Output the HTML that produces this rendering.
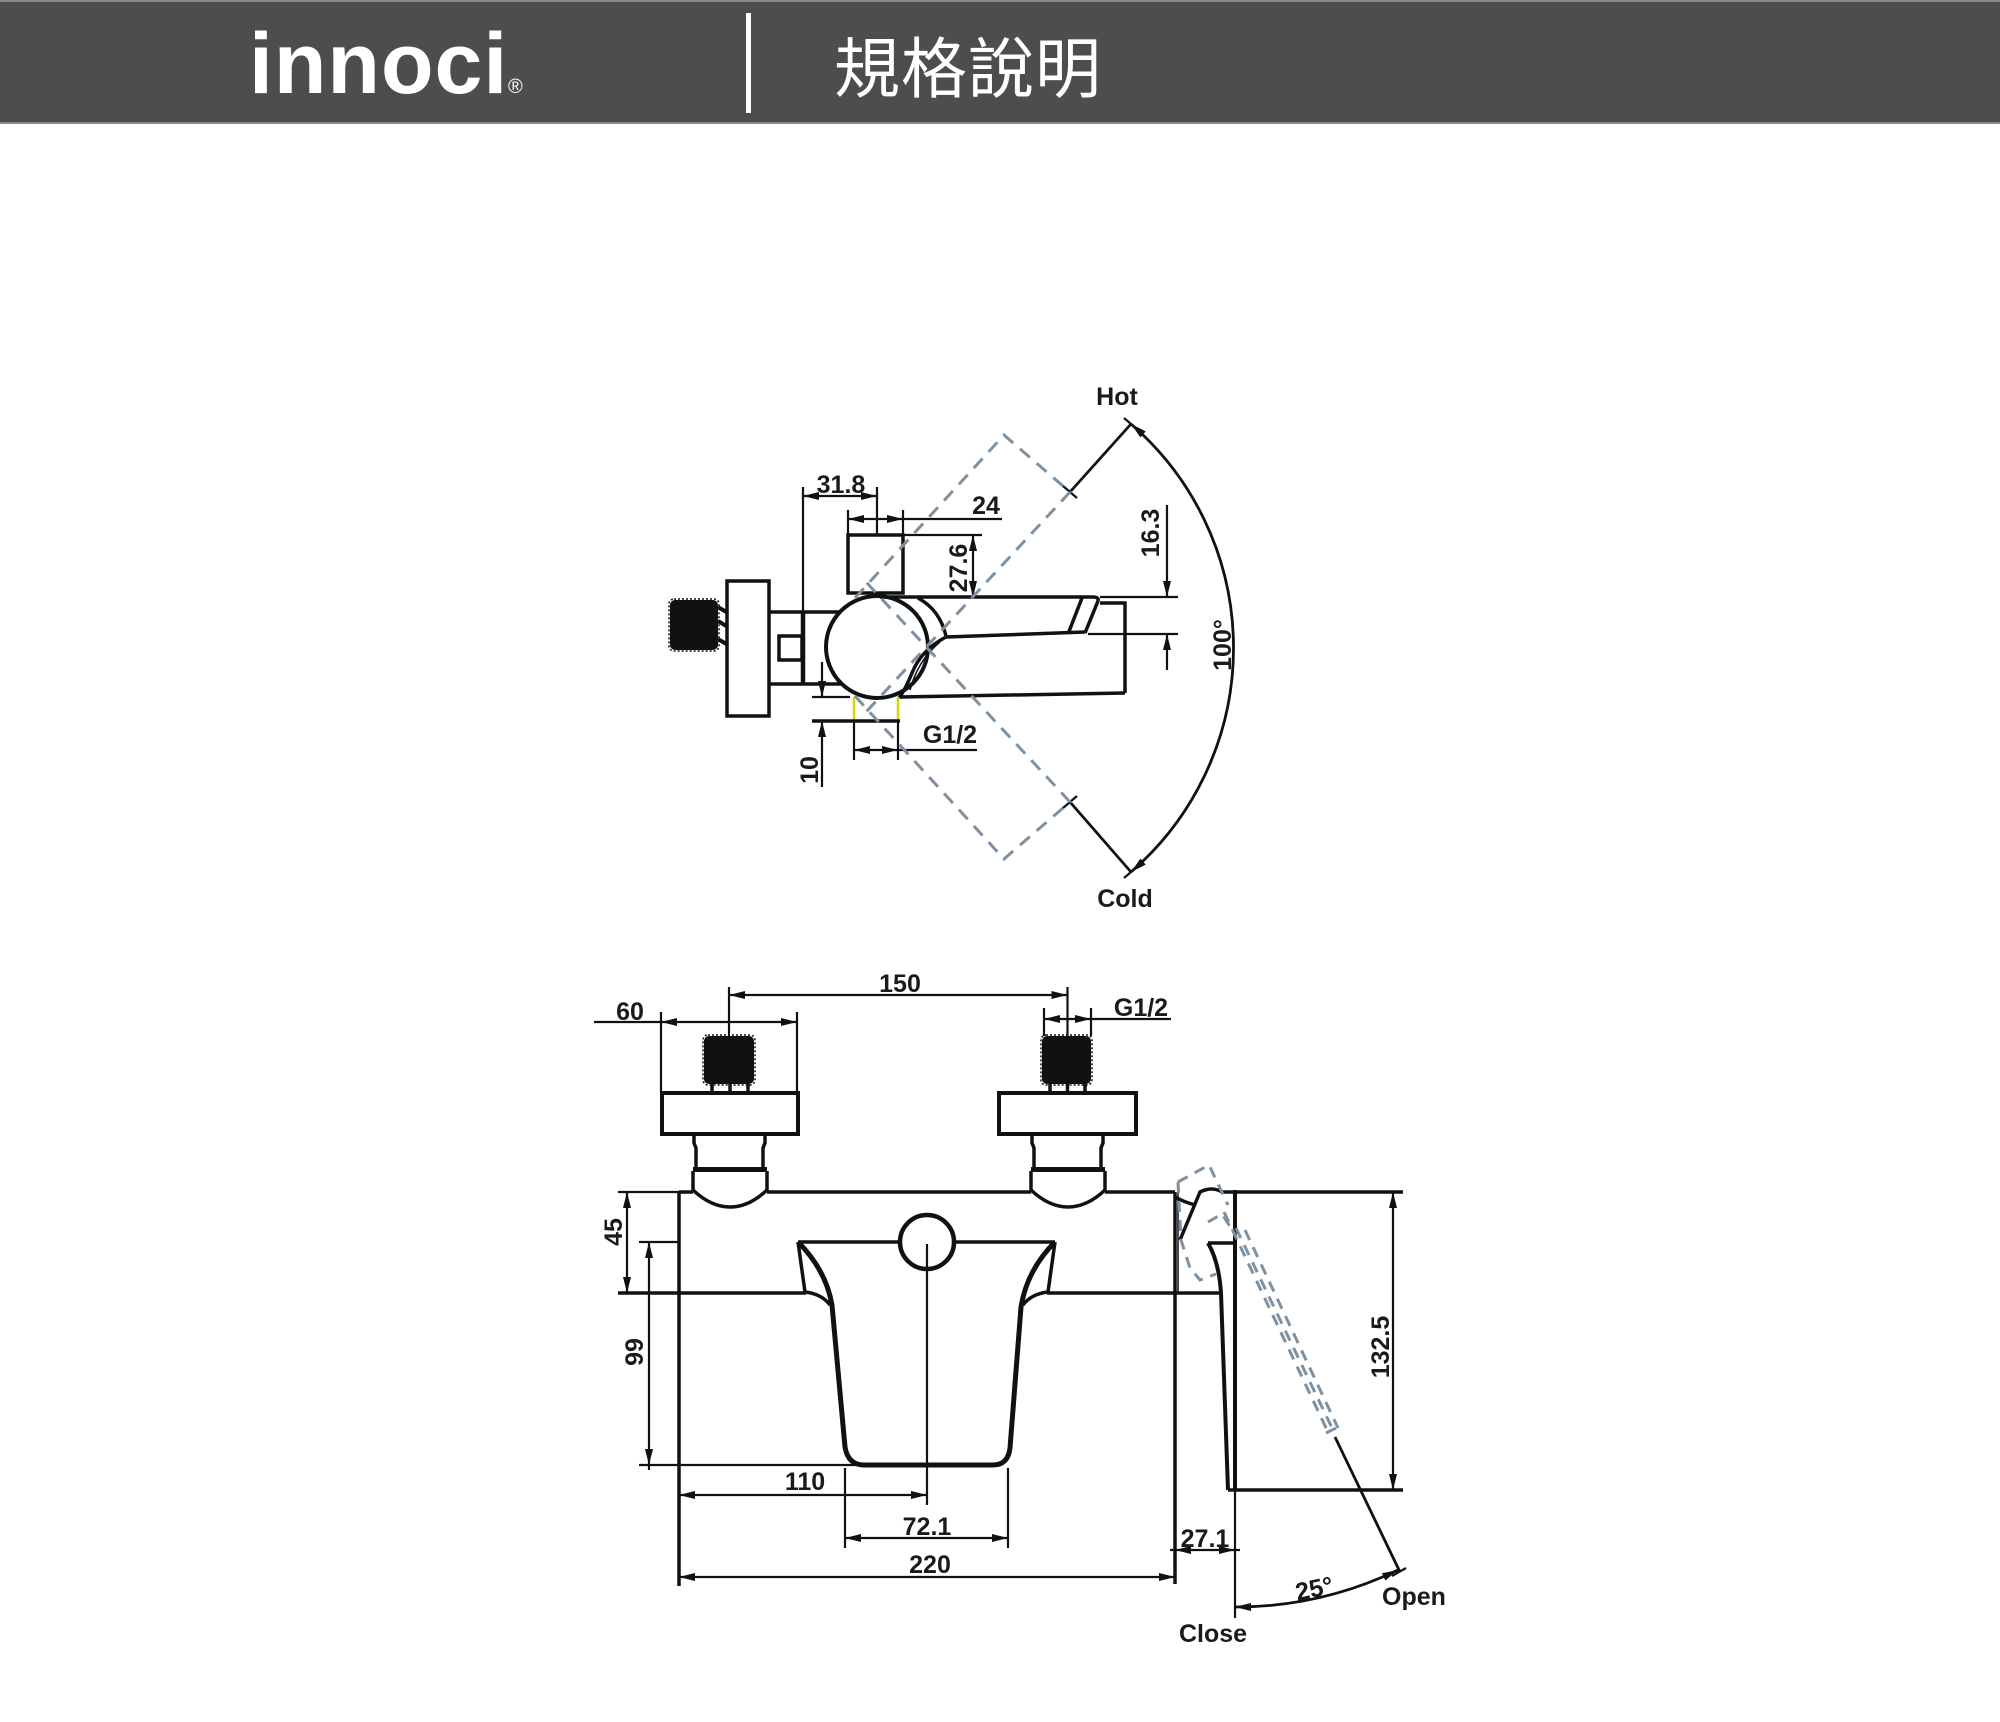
<!DOCTYPE html>
<html><head><meta charset="utf-8"><style>
html,body{margin:0;padding:0;background:#fff;}
svg{display:block;}
.t{font-family:"Liberation Sans",sans-serif;font-weight:bold;font-size:25px;fill:#1a1a1a;}
</style></head><body>
<svg width="2000" height="1722" viewBox="0 0 2000 1722" xmlns="http://www.w3.org/2000/svg">
<defs>
<marker id="a" viewBox="0 0 16 8" refX="16" refY="4" markerWidth="16" markerHeight="8" markerUnits="userSpaceOnUse" orient="auto-start-reverse"><path d="M0,0 L16,4 L0,8 z" fill="#111"/></marker>
</defs>
<rect x="0" y="0" width="2000" height="1722" fill="#fff"/>
<!-- header -->
<rect x="0" y="0" width="2000" height="124" fill="#4d4d4d"/>
<rect x="0" y="0" width="2000" height="2" fill="#8a8a8a"/>
<rect x="0" y="122" width="2000" height="2" fill="#8a8a8a"/>
<text x="249" y="93" font-family="Liberation Sans, sans-serif" font-weight="bold" font-size="86" letter-spacing="1" fill="#fff">innoci</text>
<text x="508" y="93" font-family="Liberation Sans, sans-serif" font-size="20" fill="#fff">®</text>
<rect x="746" y="13" width="5" height="100" fill="#fff"/>
<text x="834" y="92" font-family="Liberation Sans, 'Noto Sans CJK TC', sans-serif" font-size="66" letter-spacing="1" fill="#fff">規格說明</text>

<!-- ================= TOP VIEW ================= -->
<g stroke="#111" fill="none" stroke-width="3.5">
  <rect x="670" y="600" width="48" height="50" rx="5" fill="#111" stroke="none"/>
  <rect x="669" y="599" width="50" height="52" rx="5" stroke-dasharray="2 2" stroke-width="1.5"/>
  <line x1="718" y1="607" x2="728" y2="613" stroke-width="4"/>
  <line x1="718" y1="621" x2="728" y2="627" stroke-width="4"/>
  <line x1="718" y1="639" x2="728" y2="645" stroke-width="4"/>
  <rect x="727" y="581" width="42" height="135"/>
  <line x1="769" y1="612" x2="841" y2="612"/>
  <line x1="769" y1="684" x2="843" y2="684"/>
  <rect x="779" y="636" width="23" height="24"/>
  <line x1="803" y1="487" x2="803" y2="612" stroke-width="2.2"/>
  <line x1="803" y1="612" x2="803" y2="684" stroke-width="4.5"/>
  <circle cx="877" cy="647" r="51" stroke-width="4"/>
  <rect x="848" y="535" width="55" height="58"/>
  <!-- spout -->
  <path d="M880,597 L1093,597 Q1099,597 1098,601"/>
  <path d="M918,598 Q940,610 946,636"/>
  <path d="M946,637 L1085,632"/>
  <path d="M1082,598 L1068,634"/>
  <path d="M1098,601 L1085,633"/>
  <path d="M1100,603 L1125,603 L1125,693"/>
  <path d="M900,697 L1125,693"/>
  <path d="M946,637 Q921,650 912,673 Q905,690 899,698"/>
  <path d="M940,642 Q918,660 910,690" stroke-width="1.5"/>
  <!-- G1/2 pipe -->
  <line x1="854" y1="697" x2="854" y2="721" stroke="#d8d800" stroke-width="2.5"/>
  <line x1="898" y1="697" x2="898" y2="721" stroke="#d8d800" stroke-width="2.5"/>
  <line x1="812" y1="697" x2="850" y2="697" stroke-width="2.2"/>
  <line x1="812" y1="721" x2="900" y2="721" stroke-width="3.5"/>
</g>
<!-- top view dims -->
<g stroke="#111" fill="none" stroke-width="2.2">
  <!-- 31.8 -->
  <line x1="877" y1="487" x2="877" y2="535"/>
  <line x1="803" y1="496" x2="877" y2="496" marker-start="url(#a)" marker-end="url(#a)"/>
  <!-- 24 -->
  <line x1="848" y1="510" x2="848" y2="535"/>
  <line x1="903" y1="510" x2="903" y2="535"/>
  <line x1="848" y1="519" x2="903" y2="519" marker-start="url(#a)" marker-end="url(#a)"/>
  <line x1="903" y1="519" x2="1002" y2="519"/>
  <!-- 27.6 -->
  <line x1="903" y1="535" x2="982" y2="535"/>
  <line x1="973" y1="535" x2="973" y2="597" marker-start="url(#a)" marker-end="url(#a)"/>
  <!-- 16.3 -->
  <line x1="1100" y1="597" x2="1178" y2="597"/>
  <line x1="1088" y1="634" x2="1178" y2="634"/>
  <line x1="1167" y1="505" x2="1167" y2="597" marker-end="url(#a)"/>
  <line x1="1167" y1="670" x2="1167" y2="634" marker-end="url(#a)"/>
  <!-- 10 -->
  <line x1="822" y1="662" x2="822" y2="697" marker-end="url(#a)"/>
  <line x1="822" y1="787" x2="822" y2="721" marker-end="url(#a)"/>
  <!-- G1/2 -->
  <line x1="854" y1="721" x2="854" y2="760"/>
  <line x1="898" y1="721" x2="898" y2="760"/>
  <line x1="854" y1="750" x2="898" y2="750" marker-start="url(#a)" marker-end="url(#a)"/>
  <line x1="898" y1="750" x2="977" y2="750"/>
  <!-- hot/cold rays -->
  <line x1="1070" y1="492" x2="1131" y2="424" stroke-width="2.8"/>
  <line x1="1070" y1="802" x2="1131" y2="872" stroke-width="2.8"/>
  <line x1="1063" y1="486" x2="1077" y2="498"/>
  <line x1="1063" y1="808" x2="1077" y2="796"/>
  <line x1="1124" y1="418" x2="1138" y2="430"/>
  <line x1="1124" y1="878" x2="1138" y2="866"/>
  <path d="M1131,424 A296,296 0 0 1 1131,872" stroke-width="2.8" marker-start="url(#a)" marker-end="url(#a)"/>
</g>
<!-- dashed handles -->
<g stroke="#7d91a3" fill="none" stroke-width="3" stroke-dasharray="13 9">
  <polyline points="855,598 1004,435 1070,492 866,712"/>
  <polyline points="855,696 1004,859 1070,802 866,582"/>
</g>
<text class="t" x="841" y="493" text-anchor="middle">31.8</text>
<text class="t" x="986" y="514" text-anchor="middle">24</text>
<text class="t" transform="translate(967,568) rotate(-90)" text-anchor="middle">27.6</text>
<text class="t" transform="translate(1159,533) rotate(-90)" text-anchor="middle">16.3</text>
<text class="t" transform="translate(818,770) rotate(-90)" text-anchor="middle">10</text>
<text class="t" x="950" y="743" text-anchor="middle">G1/2</text>
<text class="t" x="1117" y="405" text-anchor="middle">Hot</text>
<text class="t" x="1125" y="907" text-anchor="middle">Cold</text>
<text class="t" transform="translate(1231,645) rotate(-90)" text-anchor="middle">100°</text>

<!-- ================= FRONT VIEW ================= -->
<g stroke="#111" fill="none" stroke-width="3.5">
  <rect x="704" y="1036" width="50" height="48" rx="5" fill="#111" stroke="none"/>
  <rect x="703" y="1035" width="52" height="50" rx="5" stroke-dasharray="2 2" stroke-width="1.5"/>
  <rect x="1042" y="1036" width="49" height="48" rx="5" fill="#111" stroke="none"/>
  <rect x="1041" y="1035" width="51" height="50" rx="5" stroke-dasharray="2 2" stroke-width="1.5"/>
  <line x1="712" y1="1084" x2="712" y2="1093"/><line x1="730" y1="1084" x2="730" y2="1093"/><line x1="748" y1="1084" x2="748" y2="1093"/>
  <line x1="1050" y1="1084" x2="1050" y2="1093"/><line x1="1067.5" y1="1084" x2="1067.5" y2="1093"/><line x1="1085" y1="1084" x2="1085" y2="1093"/>
  <rect x="662" y="1093" width="136" height="41" stroke-width="4"/>
  <rect x="999" y="1093" width="137" height="41" stroke-width="4"/>
  <!-- left neck/cup -->
  <path d="M694,1134 L694,1143 L696,1148 L696,1168"/>
  <path d="M765,1134 L765,1143 L763,1148 L763,1168"/>
  <rect x="693" y="1167" width="74" height="5" fill="#111" stroke="none"/>
  <path d="M693,1171 L693,1190 Q711,1207 730,1207 Q749,1207 767,1190 L767,1171"/>
  <!-- right neck/cup -->
  <path d="M1032,1134 L1032,1143 L1034,1148 L1034,1168"/>
  <path d="M1103,1134 L1103,1143 L1101,1148 L1101,1168"/>
  <rect x="1031" y="1167" width="74" height="5" fill="#111" stroke="none"/>
  <path d="M1031,1171 L1031,1190 Q1049,1207 1068,1207 Q1087,1207 1105,1190 L1105,1171"/>
  <!-- body -->
  <line x1="679" y1="1192" x2="693" y2="1192"/>
  <line x1="767" y1="1192" x2="1031" y2="1192"/>
  <line x1="1105" y1="1192" x2="1175" y2="1192"/>
  <line x1="679" y1="1192" x2="679" y2="1586"/>
  <line x1="1175" y1="1192" x2="1175" y2="1584"/>
  <line x1="1178" y1="1192" x2="1178" y2="1293" stroke-width="1.5"/>
  <line x1="618" y1="1293" x2="806" y2="1293"/>
  <line x1="1047" y1="1293" x2="1220" y2="1293"/>
  <!-- spout -->
  <line x1="798" y1="1242" x2="900" y2="1242"/>
  <line x1="954" y1="1242" x2="1055" y2="1242"/>
  <circle cx="927" cy="1242" r="27" stroke-width="4.5"/>
  <path d="M798,1242 L805,1292 Q822,1294 830,1305"/>
  <path d="M1055,1242 L1048,1292 Q1031,1294 1023,1305"/>
  <path d="M798,1242 Q826,1270 832,1305 L845,1447 Q848,1465 864,1465 L993,1465 Q1008,1465 1010,1448 L1021,1307 Q1027,1270 1055,1242" stroke-width="5"/>
  <!-- side view -->
  <line x1="1222" y1="1192" x2="1403" y2="1192"/>
  <line x1="1235" y1="1190" x2="1235" y2="1490" stroke-width="4"/>
  <line x1="1228" y1="1490" x2="1403" y2="1490"/>
  <path d="M1175,1197 Q1186,1203 1196,1205"/>
  <path d="M1180,1240 L1200,1192 Q1212,1186 1222,1192"/>
  <path d="M1208,1243 L1233,1243"/>
  <path d="M1208,1243 Q1219,1262 1221,1293 L1228,1490" stroke-width="4"/>
  <path d="M1213,1252 Q1219,1270 1221,1292" stroke-width="1.5"/>
</g>
<g stroke="#111" fill="none" stroke-width="2.2">
  <line x1="1235" y1="1490" x2="1235" y2="1618"/>
  <!-- 60 -->
  <line x1="661" y1="1012" x2="661" y2="1093"/>
  <line x1="797" y1="1012" x2="797" y2="1093"/>
  <line x1="594" y1="1022" x2="661" y2="1022"/>
  <line x1="661" y1="1022" x2="797" y2="1022" marker-start="url(#a)" marker-end="url(#a)"/>
  <!-- 150 -->
  <line x1="729" y1="987" x2="729" y2="1036"/>
  <line x1="1067.5" y1="987" x2="1067.5" y2="1036"/>
  <line x1="729" y1="995" x2="1067.5" y2="995" marker-start="url(#a)" marker-end="url(#a)"/>
  <!-- G1/2 -->
  <line x1="1044" y1="1008" x2="1044" y2="1036"/>
  <line x1="1091" y1="1008" x2="1091" y2="1036"/>
  <line x1="1044" y1="1019" x2="1091" y2="1019" marker-start="url(#a)" marker-end="url(#a)"/>
  <line x1="1091" y1="1019" x2="1171" y2="1019"/>
  <!-- 45 -->
  <line x1="618" y1="1192" x2="679" y2="1192"/>
  <line x1="627" y1="1192" x2="627" y2="1293" marker-start="url(#a)" marker-end="url(#a)"/>
  <!-- 99 -->
  <line x1="639" y1="1242" x2="679" y2="1242"/>
  <line x1="639" y1="1465" x2="857" y2="1465"/>
  <line x1="649" y1="1242" x2="649" y2="1465" marker-start="url(#a)" marker-end="url(#a)"/>
  <line x1="649" y1="1465" x2="649" y2="1470"/>
  <!-- 110 -->
  <line x1="927" y1="1244" x2="927" y2="1505"/>
  <line x1="679" y1="1495" x2="927" y2="1495" marker-start="url(#a)" marker-end="url(#a)"/>
  <!-- 72.1 -->
  <line x1="845" y1="1468" x2="845" y2="1548"/>
  <line x1="1008" y1="1468" x2="1008" y2="1548"/>
  <line x1="845" y1="1538" x2="1008" y2="1538" marker-start="url(#a)" marker-end="url(#a)"/>
  <!-- 220 -->
  <line x1="679" y1="1577" x2="1175" y2="1577" marker-start="url(#a)" marker-end="url(#a)"/>
  <!-- 27.1 -->
  <line x1="1170" y1="1550" x2="1175" y2="1550"/>
  <line x1="1175" y1="1550" x2="1235" y2="1550" marker-start="url(#a)" marker-end="url(#a)"/>
  <line x1="1235" y1="1550" x2="1240" y2="1550"/>
  <!-- 132.5 -->
  <line x1="1393" y1="1192" x2="1393" y2="1490" marker-start="url(#a)" marker-end="url(#a)"/>
  <!-- open ray / 25 deg -->
  <line x1="1335" y1="1437" x2="1400" y2="1572" stroke-width="2.8"/>
  <line x1="1392" y1="1576" x2="1406" y2="1568"/>
  <path d="M1235,1607 A375,375 0 0 0 1398,1570" stroke-width="2.8" marker-start="url(#a)" marker-end="url(#a)"/>
</g>
<!-- side dashed -->
<g stroke="#7d91a3" fill="none" stroke-width="3" stroke-dasharray="11 8">
  <polyline points="1178,1182 1209,1165 1228,1205"/>
  <polyline points="1178,1182 1181,1240 1190,1268 1200,1280 1216,1274"/>
  <polyline points="1208,1222 1222,1214 1236,1236"/>
  <line x1="1224" y1="1212" x2="1328" y2="1432"/>
  <line x1="1236" y1="1228" x2="1333" y2="1430"/>
  <line x1="1245" y1="1230" x2="1338" y2="1428"/>
  <line x1="1326" y1="1433" x2="1340" y2="1426"/>
</g>
<text class="t" x="630" y="1020" text-anchor="middle">60</text>
<text class="t" x="900" y="992" text-anchor="middle">150</text>
<text class="t" x="1141" y="1016" text-anchor="middle">G1/2</text>
<text class="t" transform="translate(622,1232) rotate(-90)" text-anchor="middle">45</text>
<text class="t" transform="translate(643,1352) rotate(-90)" text-anchor="middle">99</text>
<text class="t" x="805" y="1490" text-anchor="middle">110</text>
<text class="t" x="927" y="1535" text-anchor="middle">72.1</text>
<text class="t" x="930" y="1573" text-anchor="middle">220</text>
<text class="t" x="1205" y="1547" text-anchor="middle">27.1</text>
<text class="t" transform="translate(1389,1347) rotate(-90)" text-anchor="middle">132.5</text>
<text class="t" transform="translate(1316,1597) rotate(-12)" text-anchor="middle">25°</text>
<text class="t" x="1414" y="1605" text-anchor="middle">Open</text>
<text class="t" x="1213" y="1642" text-anchor="middle">Close</text>
</svg>
</body></html>
